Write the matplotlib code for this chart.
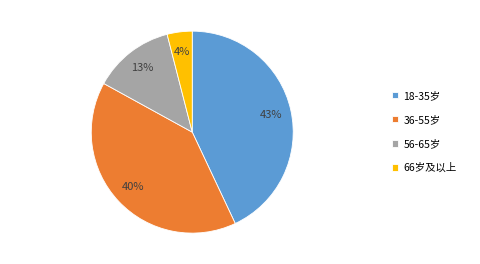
import matplotlib
matplotlib.use("Agg")
import matplotlib.pyplot as plt

plt.rcParams['font.family'] = ['Noto Sans CJK SC', 'DejaVu Sans']

# age groups and their shares
labels = ["18-35岁", "36-55岁", "56-65岁", "66岁及以上"]
shares = [43, 40, 13, 4]
colors = ["#5B9BD5", "#ED7D31", "#A5A5A5", "#FFC000"]

fig = plt.figure(figsize=(4.8, 2.64), dpi=100)
ax = fig.add_axes([0.19, 0.117, 0.421, 0.765])

wedges, texts, autotexts = ax.pie(
    shares, colors=colors, startangle=90, counterclock=False,
    autopct='%d%%', pctdistance=0.8,
    wedgeprops=dict(edgecolor='white', linewidth=0.6),
    textprops=dict(fontsize=8, color='#404040'))
ax.set_xlim(-1.0, 1.0)
ax.set_ylim(-1.0, 1.0)
ax.set_aspect('equal')

fig.legend(wedges, labels, loc='center left', bbox_to_anchor=(0.797, 0.5),
           frameon=False, fontsize=7.5, labelspacing=1.35,
           handlelength=0.6, handleheight=0.6, handletextpad=0.5)

fig.savefig("out.png", dpi=100)
